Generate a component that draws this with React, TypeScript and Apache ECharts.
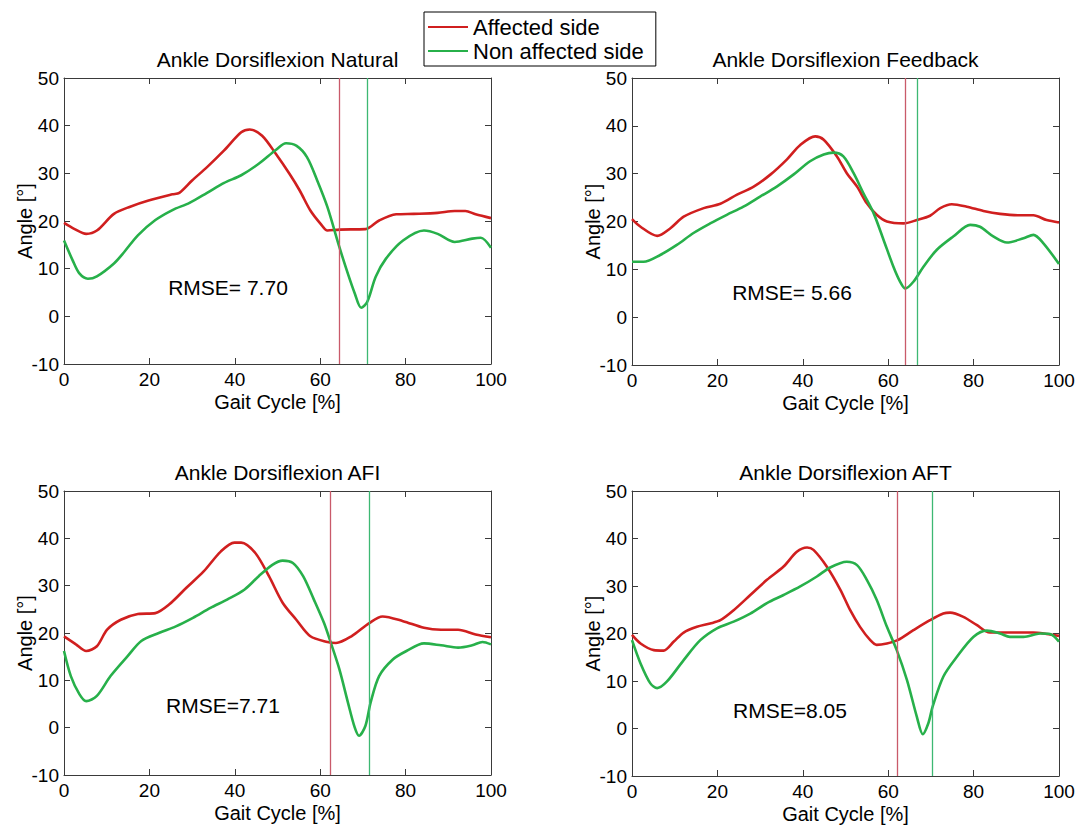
import React, { useEffect, useRef } from "react";
import * as echarts from "echarts";

const FONT = "'Liberation Sans', Arial, sans-serif";

const panelTitles = ["Ankle Dorsiflexion Natural", "Ankle Dorsiflexion Feedback", "Ankle Dorsiflexion AFI", "Ankle Dorsiflexion AFT"];
const rmseLabels = ["RMSE= 7.70", "RMSE= 5.66", "RMSE=7.71", "RMSE=8.05"];
const xTicks = [0, 20, 40, 60, 80, 100];
const yTicks = [-10, 0, 10, 20, 30, 40, 50];

// Natural
const natAffX = [0, 2.5, 5.2, 7.7, 11.7, 15.5, 19.8, 25.4, 27, 30, 33.5, 37.5, 41.5, 43.5, 46.4, 49.6, 52.8, 55.2, 57.7, 60.1, 61.7, 64.5, 70.6, 73.8, 77.8, 81.9, 87.5, 91.5, 94, 96.4, 100];
const natAffY = [19.6, 18.3, 17.3, 18, 21.5, 23, 24.3, 25.6, 25.9, 28.5, 31.3, 34.8, 38.6, 39.2, 37.9, 34.1, 29.9, 26.4, 22.2, 19.4, 18.0, 18.2, 18.3, 20.1, 21.4, 21.5, 21.7, 22.1, 22.1, 21.4, 20.6];
const natNonX = [0, 2, 3.6, 5.6, 7.7, 11.7, 14.1, 17.3, 21.4, 25.4, 29.4, 33.5, 37.5, 41.5, 45.6, 49.6, 52, 54.4, 56.9, 59.3, 61.7, 64.5, 66.5, 68.1, 69.6, 71, 73, 75.4, 79.4, 84.3, 87.5, 91.5, 95.6, 97.6, 100];
const natNonY = [15.9, 11.8, 9, 7.9, 8.4, 11.1, 13.5, 17, 20.2, 22.3, 23.8, 25.9, 28.0, 29.6, 32.0, 34.9, 36.3, 35.8, 33.4, 28.5, 22.9, 14.5, 8.9, 4.8, 1.8, 3.0, 8.3, 12.1, 15.9, 18.0, 17.3, 15.6, 16.3, 16.5, 14.4];

// Feedback
const fbAffX = [0, 2, 5.9, 9, 12.1, 16.8, 20.7, 24.6, 28.5, 32.4, 36.3, 39.4, 42.9, 44.9, 48, 50.3, 52.7, 55, 57.3, 59.7, 63.6, 66.7, 69.8, 72.2, 74.9, 78.4, 82.3, 86.2, 90.9, 94, 97.1, 100];
const fbAffY = [20.5, 18.9, 17.0, 18.6, 21.0, 22.8, 23.7, 25.6, 27.3, 29.8, 33.0, 36.0, 37.8, 37.1, 33.6, 30.1, 27.3, 23.8, 21.4, 20, 19.6, 20.3, 21.2, 22.8, 23.6, 23.1, 22.2, 21.6, 21.3, 21.3, 20.3, 19.8];
const fbNonX = [0, 2.7, 6.6, 10.5, 14.4, 18.3, 22.2, 26.1, 30, 33.9, 37.8, 41.7, 44.9, 47.2, 49.5, 51.9, 54.2, 56.6, 58.9, 61.2, 62.8, 64, 65.9, 68.3, 71.4, 75.3, 79.2, 81.5, 84.6, 87.8, 91.7, 94, 96.3, 100];
const fbNonY = [11.6, 11.6, 13.0, 15.1, 17.6, 19.6, 21.4, 23.1, 25.2, 27.3, 29.8, 32.6, 34.0, 34.4, 33.6, 30.1, 25.9, 21.7, 16.2, 10.6, 7.4, 6.0, 7.4, 10.6, 14.1, 16.9, 19.3, 18.9, 16.9, 15.6, 16.5, 17.2, 15.5, 11.1];

// AFI
const afiAffX = [0, 2.8, 5.2, 7.7, 10.1, 13.3, 17.3, 21.4, 24.6, 28.6, 32.7, 36.7, 39.9, 41.5, 44.8, 48, 51.2, 54.4, 57.7, 61.7, 63.7, 67.3, 71.5, 74.6, 79.4, 84.3, 88.3, 92.3, 96.4, 100];
const afiAffY = [19.3, 17.6, 16.2, 17.2, 20.7, 22.8, 24.0, 24.2, 26.0, 29.5, 33.0, 37.2, 39.1, 39.1, 36.9, 32.0, 26.4, 22.8, 19.3, 18.1, 17.9, 19.3, 22.1, 23.5, 22.5, 21.1, 20.7, 20.7, 19.7, 19.1];
const afiNonX = [0, 1.6, 3.6, 5.2, 7.7, 10.9, 14.9, 18.1, 22.2, 26.2, 30.2, 34.3, 38.3, 42.3, 45.6, 48.8, 51.2, 53.6, 56, 58.5, 60.9, 62.5, 64.5, 66.5, 68.1, 69.1, 70.6, 71.8, 73.8, 77, 80.2, 84.3, 88.3, 92.3, 95.6, 98, 100];
const afiNonY = [16.2, 10.9, 7.1, 5.6, 6.7, 10.9, 15.1, 18.3, 20.0, 21.4, 23.2, 25.3, 27.1, 29.2, 32.0, 34.4, 35.3, 34.8, 32.0, 27.1, 22.1, 17.9, 12.3, 5.3, 0.0, -1.7, 0.4, 5.3, 10.9, 14.4, 16.2, 17.8, 17.4, 16.9, 17.4, 18.1, 17.6];

// AFT
const aftAffX = [0, 2, 5.1, 7.4, 9.8, 12.1, 15.2, 18.3, 20.7, 23.8, 27.7, 31.6, 35.5, 38.6, 41, 42.5, 45.6, 48.8, 51.1, 53.4, 55.8, 57.3, 59.7, 62.2, 65.9, 69.8, 72.9, 74.5, 77.6, 80.7, 83.8, 88.5, 94, 97.1, 100];
const aftAffY = [19.7, 17.9, 16.5, 16.4, 18.3, 20.2, 21.4, 22.1, 22.8, 24.9, 28.1, 31.3, 34.1, 37.2, 38.1, 37.6, 34.1, 29.2, 24.9, 21.4, 18.6, 17.6, 17.9, 18.6, 20.7, 22.8, 24.2, 24.4, 23.5, 21.8, 20.2, 20.2, 20.2, 19.9, 19.5];
const aftNonX = [0, 2, 4.3, 5.9, 8.2, 12.1, 16, 19.9, 23.8, 27.7, 31.6, 35.5, 39.4, 43.3, 46.4, 50.3, 52.7, 55, 57.3, 59.7, 62, 64.4, 66.7, 68.1, 69.4, 70.4, 72.9, 76.1, 80, 83.1, 86.2, 88.5, 91.7, 95.6, 97.9, 100];
const aftNonY = [18.6, 13.7, 9.5, 8.5, 9.9, 14.4, 18.6, 21.1, 22.5, 24.2, 26.4, 28.1, 29.9, 32.0, 33.9, 35.1, 34.4, 31.3, 27.1, 21.4, 16.5, 10.2, 2.5, -1.2, 1.1, 4.6, 10.9, 15.1, 19.3, 20.6, 20.0, 19.3, 19.3, 20.0, 19.9, 18.3];

// Toe-off markers (vertical lines)
const toeOffAffected = [64.5, 63.9, 62.3, 62.2];
const toeOffNonAffected = [71.1, 66.8, 71.5, 70.4];

const affectedX = [natAffX, fbAffX, afiAffX, aftAffX];
const affectedY = [natAffY, fbAffY, afiAffY, aftAffY];
const nonAffectedX = [natNonX, fbNonX, afiNonX, aftNonX];
const nonAffectedY = [natNonY, fbNonY, afiNonY, aftNonY];

const RED = "#d01f1f";
const GREEN = "#27b04a";
const RED_V = "#c95a6a";
const GREEN_V = "#3db873";

const grids = [
  { left: 64, top: 78, width: 427, height: 286 },
  { left: 632, top: 78, width: 427, height: 287 },
  { left: 64, top: 491, width: 427, height: 284 },
  { left: 632, top: 491, width: 427, height: 285 },
];
const rmsePos = [
  [228, 287],
  [792, 292],
  [223, 705],
  [790, 710],
];

const zip = (xs: number[], ys: number[]) => xs.map((x, i) => [x, ys[i]]);

export default function App() {
  const ref = useRef<HTMLDivElement>(null);
  useEffect(() => {
    document.body.style.margin = "0";
    if (!ref.current) return;
    const chart = echarts.init(ref.current, undefined, { renderer: "svg" });
    const axisLineStyle = { color: "#3a3a3a", width: 1 };
    const xAxes: any[] = [];
    const yAxes: any[] = [];
    const series: any[] = [];
    const graphics: any[] = [];
    grids.forEach((g, i) => {
      xAxes.push({
        type: "value",
        gridIndex: i,
        min: xTicks[0],
        max: xTicks[xTicks.length - 1],
        interval: 20,
        position: "bottom",
        axisLine: { show: true, onZero: false, lineStyle: axisLineStyle },
        axisTick: { show: true, inside: true, length: 6, lineStyle: axisLineStyle },
        axisLabel: { fontSize: 19, color: "#000", fontFamily: FONT, margin: 6 },
        splitLine: { show: false },
        name: "Gait Cycle [%]",
        nameLocation: "middle",
        nameGap: 28,
        nameTextStyle: { fontSize: 20, color: "#000", fontFamily: FONT },
      });
      xAxes.push({
        type: "value",
        gridIndex: i,
        min: xTicks[0],
        max: xTicks[xTicks.length - 1],
        interval: 20,
        position: "top",
        axisLine: { show: true, onZero: false, lineStyle: axisLineStyle },
        axisTick: { show: true, inside: true, length: 6, lineStyle: axisLineStyle },
        axisLabel: { show: false },
        splitLine: { show: false },
      });
      yAxes.push({
        type: "value",
        gridIndex: i,
        min: yTicks[0],
        max: yTicks[yTicks.length - 1],
        interval: 10,
        position: "left",
        axisLine: { show: true, onZero: false, lineStyle: axisLineStyle },
        axisTick: { show: true, inside: true, length: 6, lineStyle: axisLineStyle },
        axisLabel: { fontSize: 19, color: "#000", fontFamily: FONT, margin: 5 },
        splitLine: { show: false },
        name: "Angle [°]",
        nameLocation: "middle",
        nameRotate: 90,
        nameGap: 29,
        nameMoveOverlap: false,
        nameTextStyle: { fontSize: 20, color: "#000", fontFamily: FONT },
      });
      yAxes.push({
        type: "value",
        gridIndex: i,
        min: yTicks[0],
        max: yTicks[yTicks.length - 1],
        interval: 10,
        position: "right",
        axisLine: { show: true, onZero: false, lineStyle: axisLineStyle },
        axisTick: { show: true, inside: true, length: 6, lineStyle: axisLineStyle },
        axisLabel: { show: false },
        splitLine: { show: false },
      });
      series.push({
        name: "Affected side",
        type: "line",
        xAxisIndex: i * 2,
        yAxisIndex: i * 2,
        data: zip(affectedX[i], affectedY[i]),
        showSymbol: false,
        smooth: 0.3,
        color: RED,
        lineStyle: { color: RED, width: 2.6 },
        z: 3,
        markLine: {
          silent: true,
          symbol: ["none", "none"],
          label: { show: false },
          lineStyle: { color: RED_V, width: 1.3, type: "solid" },
          data: [{ xAxis: toeOffAffected[i] }],
          z: 5,
        },
      });
      series.push({
        name: "Non affected side",
        type: "line",
        xAxisIndex: i * 2,
        yAxisIndex: i * 2,
        data: zip(nonAffectedX[i], nonAffectedY[i]),
        showSymbol: false,
        smooth: 0.3,
        color: GREEN,
        lineStyle: { color: GREEN, width: 2.6 },
        z: 4,
        markLine: {
          silent: true,
          symbol: ["none", "none"],
          label: { show: false },
          lineStyle: { color: GREEN_V, width: 1.3, type: "solid" },
          data: [{ xAxis: toeOffNonAffected[i] }],
          z: 5,
        },
      });
      graphics.push({
        type: "text",
        x: g.left + g.width / 2,
        y: g.top - 19,
        style: {
          text: panelTitles[i],
          fill: "#000",
          font: `21px ${FONT}`,
          textAlign: "center",
          textVerticalAlign: "middle",
        },
      });
      graphics.push({
        type: "text",
        x: rmsePos[i][0],
        y: rmsePos[i][1],
        style: {
          text: rmseLabels[i],
          fill: "#000",
          font: `21px ${FONT}`,
          textAlign: "center",
          textVerticalAlign: "middle",
        },
      });
    });

    chart.setOption({
      animation: false,
      backgroundColor: "#fff",
      grid: grids,
      xAxis: xAxes,
      yAxis: yAxes,
      series,
      graphic: graphics,
      legend: {
        data: ["Affected side", "Non affected side"],
        orient: "vertical",
        left: 424,
        top: 12,
        icon: "rect",
        itemWidth: 40,
        itemHeight: 2,
        itemGap: 2,
        padding: [4, 12, 4, 4],
        borderColor: "#000",
        borderWidth: 1,
        backgroundColor: "#fff",
        textStyle: { fontSize: 22, color: "#000", fontFamily: FONT },
        selectedMode: false,
      },
    });
    return () => chart.dispose();
  }, []);
  return <div ref={ref} style={{ width: 1081, height: 830 }} />;
}
